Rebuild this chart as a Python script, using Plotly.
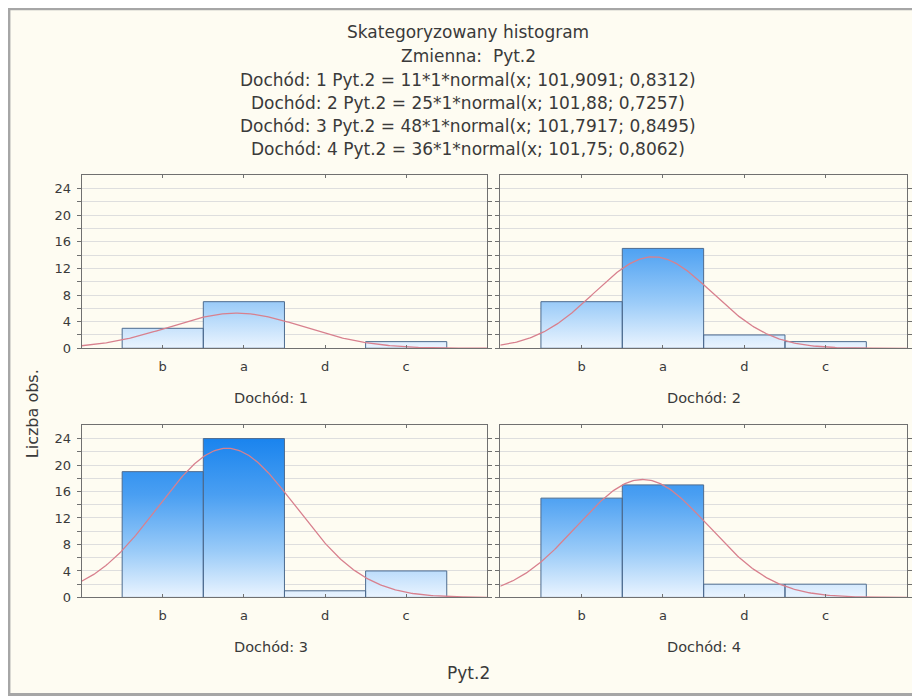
import numpy as np
import plotly.graph_objects as go

# ---- data ----
categories = ['b', 'a', 'd', 'c']
category_codes = [101, 102, 103, 104]          # numeric codes of Pyt.2 categories
panel_labels = ['Dochód: 1', 'Dochód: 2', 'Dochód: 3', 'Dochód: 4']
counts_d1 = [3, 7, 0, 1]
counts_d2 = [7, 15, 2, 1]
counts_d3 = [19, 24, 1, 4]
counts_d4 = [15, 17, 2, 2]
all_counts = [counts_d1, counts_d2, counts_d3, counts_d4]
fit_n = [11, 25, 48, 36]
fit_mean = [101.9091, 101.88, 101.7917, 101.75]
fit_sd = [0.8312, 0.7257, 0.8495, 0.8062]
y_ticks = [0, 2, 4, 6, 8, 10, 12, 14, 16, 18, 20, 22, 24]
title_lines = [
    'Skategoryzowany histogram',
    'Zmienna:  Pyt.2',
    'Dochód: 1 Pyt.2 = 11*1*normal(x; 101,9091; 0,8312)',
    'Dochód: 2 Pyt.2 = 25*1*normal(x; 101,88; 0,7257)',
    'Dochód: 3 Pyt.2 = 48*1*normal(x; 101,7917; 0,8495)',
    'Dochód: 4 Pyt.2 = 36*1*normal(x; 101,75; 0,8062)',
]

# ---- layout geometry (page pixels; the page has an 8px body margin) ----
OFF = 8
W, H = 904, 698
VS = 1 / 0.988          # vertical compensation
FONT = 'DejaVu Sans'
TXT = '#3a3a3a'
col_px = [(82, 490), (503, 912)]
row_px = [(175, 348), (425, 597)]


def px_x(x):
    return (x - OFF) / W


def px_y(y):
    return 1 - (y * VS - OFF) / H


fig = go.Figure()

for i in range(4):
    r, c = divmod(i, 2)
    ax = '' if i == 0 else str(i + 1)
    # bars as filled polygons with a vertical gradient
    bx, by = [], []
    for code, h in zip(category_codes, all_counts[i]):
        if h <= 0:
            continue
        bx += [code - 0.5, code - 0.5, code + 0.5, code + 0.5, code - 0.5, None]
        by += [0, h, h, 0, 0, None]
    fig.add_trace(go.Scatter(
        x=bx, y=by, mode='lines', fill='toself',
        line=dict(color='#4d6b8f', width=1),
        fillgradient=dict(type='vertical', start=0, stop=24,
                          colorscale=[[0, '#eef6ff'], [0.3, '#9acbf8'],
                                      [0.65, '#4a9ff2'], [1, '#1a84ee']]),
        xaxis='x' + ax, yaxis='y' + ax, showlegend=False, hoverinfo='skip'))
    # fitted normal curve
    xs = np.linspace(100, 105, 301)
    ys = fit_n[i] * np.exp(-0.5 * ((xs - fit_mean[i]) / fit_sd[i]) ** 2) / (fit_sd[i] * np.sqrt(2 * np.pi))
    fig.add_trace(go.Scatter(
        x=xs, y=ys, mode='lines', line=dict(color='#d8808e', width=1.3),
        xaxis='x' + ax, yaxis='y' + ax, showlegend=False, hoverinfo='skip'))

    x0, x1 = col_px[c]
    y0, y1 = row_px[r]
    fig.layout['xaxis' + ax] = dict(
        domain=[px_x(x0), px_x(x1)], range=[100, 105], anchor='y' + ax,
        tickvals=category_codes, ticktext=categories,
        showline=True, linecolor='#707070', linewidth=1, mirror='ticks',
        ticks='inside', ticklen=3, tickcolor='#707070',
        showgrid=False, zeroline=False, ticklabelstandoff=6,
        tickfont=dict(family=FONT, size=13, color=TXT))
    fig.layout['yaxis' + ax] = dict(
        domain=[px_y(y1), px_y(y0)], range=[0, 26], anchor='x' + ax,
        tickvals=y_ticks, ticktext=[str(v) if v % 4 == 0 else '' for v in y_ticks],
        showticklabels=(c == 0),
        showline=True, linecolor='#707070', linewidth=1, mirror='ticks',
        ticks='outside', ticklen=4, tickcolor='#707070',
        showgrid=True, gridcolor='#dedede', gridwidth=1, zeroline=False,
        ticklabelstandoff=3,
        tickfont=dict(family=FONT, size=13, color=TXT))

annotations = []
title_y = [32, 56, 80, 103, 126, 149]
for t, yy in zip(title_lines, title_y):
    annotations.append(dict(text=t, x=px_x(471), y=px_y(yy), xref='paper', yref='paper',
                            showarrow=False, xanchor='center', yanchor='middle',
                            font=dict(family=FONT, size=17, color=TXT)))
label_pos = [(272, 398), (708, 398), (272, 647), (708, 647)]
for lab, (lx, ly) in zip(panel_labels, label_pos):
    annotations.append(dict(text=lab, x=px_x(lx), y=px_y(ly), xref='paper', yref='paper',
                            showarrow=False, xanchor='center', yanchor='middle',
                            font=dict(family=FONT, size=14.5, color=TXT)))
annotations.append(dict(text='Pyt.2', x=px_x(471), y=px_y(673), xref='paper', yref='paper',
                        showarrow=False, xanchor='center', yanchor='middle',
                        font=dict(family=FONT, size=17, color=TXT)))
annotations.append(dict(text='Liczba obs.', x=px_x(32), y=px_y(413), xref='paper', yref='paper',
                        showarrow=False, xanchor='center', yanchor='middle', textangle=-90,
                        font=dict(family=FONT, size=16, color=TXT)))

fig.update_layout(
    width=W, height=H, margin=dict(l=0, r=0, t=0, b=0),
    paper_bgcolor='#ffffff', plot_bgcolor='#ffffff',
    annotations=annotations,
    shapes=[dict(type='rect', xref='paper', yref='paper', layer='below',
                 x0=0.001, x1=1.01, y0=px_y(694), y1=0.999,
                 fillcolor='#fefcf2', line=dict(color='#a6a6a6', width=3))],
)

fig.write_html('out.html', config={'displayModeBar': False})
